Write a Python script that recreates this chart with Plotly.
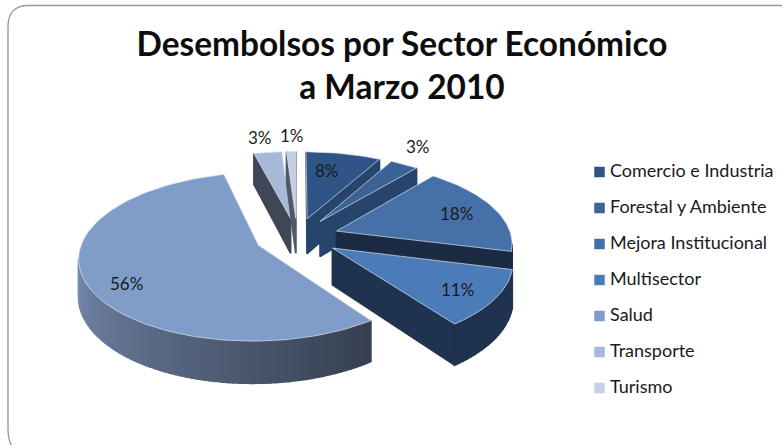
import math
import plotly.graph_objects as go

# ---- data ----
categories = ["Comercio e Industria", "Forestal y Ambiente", "Mejora Institucional",
              "Multisector", "Salud", "Transporte", "Turismo"]
shares = [8, 3, 18, 11, 56, 3, 1]
top_colors = ["#2f5486", "#3c6395", "#4571a8", "#4b7cb9", "#809dca", "#a7b9d9", "#c4d0e6"]
side_colors = ["#27446c", "#27446c", "#1b2b43", "#1f3350", None, "#3f4656", "#50586a"]
title_text = "Desembolsos por Sector Económico<br>a Marzo 2010"

# ---- projection of the tilted pie into page pixels ----
W, H = 782, 445
CX, CY = 297, 237
RX, RY = 175, 80.5
PERSP = 0.134
DEPTH = 36
EXPLODE = 0.24
LABEL_PX = [(327, 170), (418, 146), (456, 213), (457, 289), (126, 283), (260, 137), (292, 135)]
DRAW_ORDER = [5, 6, 0, 1, 2, 3, 4]
KEY_X, KEY_TEXT_X, KEY_Y0, KEY_STEP = 599.5, 610, 172, 36


def project(u, v, down=False):
    s = 1 / (1 - PERSP * v)
    return CX + RX * u * s, CY + RY * v * s + (DEPTH * s if down else 0)


def lerp_hex(a, b, t):
    ca = [int(a[i:i + 2], 16) for i in (1, 3, 5)]
    cb = [int(b[i:i + 2], 16) for i in (1, 3, 5)]
    return "#%02x%02x%02x" % tuple(round(x + (y - x) * t) for x, y in zip(ca, cb))


def face(fig, pts, color, line="rgba(0,0,0,0)", width=0):
    xs = [p[0] for p in pts] + [pts[0][0]]
    ys = [p[1] for p in pts] + [pts[0][1]]
    fig.add_trace(go.Scatter(x=xs, y=ys, mode="lines", fill="toself", fillcolor=color,
                             line=dict(color=line, width=width), hoverinfo="skip",
                             showlegend=False))


def quad(fig, a, b, color):
    """Side face between plan points a and b; drawn only if it faces the viewer."""
    p = [project(*a), project(*b), project(*b, True), project(*a, True)]
    area = sum(p[i][0] * p[(i + 1) % 4][1] - p[(i + 1) % 4][0] * p[i][1] for i in range(4))
    if area < 0:
        face(fig, p, color, color, 1.6)


fig = go.Figure()
total = sum(shares)
spans = []
acc = 0
for val in shares:
    spans.append((acc / total * 2 * math.pi, (acc + val) / total * 2 * math.pi))
    acc += val

for i in DRAW_ORDER:
    a0, a1 = spans[i]
    mid = (a0 + a1) / 2
    ox, oy = EXPLODE * math.sin(mid), -EXPLODE * math.cos(mid)
    n = max(4, int((a1 - a0) / 0.03))
    arc = [(ox + math.sin(a0 + (a1 - a0) * k / n), oy - math.cos(a0 + (a1 - a0) * k / n))
           for k in range(n + 1)]
    apex = (ox, oy)
    side = side_colors[i]
    quad(fig, apex, arc[0], side or "#363f50")
    quad(fig, arc[-1], apex, side or "#363f50")
    for k in range(n):
        if side is None:
            c = lerp_hex("#363f50", "#7b90b5", min(1, k / (n * 0.62)))
        else:
            c = side
        quad(fig, arc[k], arc[k + 1], c)
    top = [project(*apex)] + [project(*q) for q in arc]
    face(fig, top, top_colors[i], "#dfe4ec", 0.7)

# colour key
key_y = [KEY_Y0 + KEY_STEP * k for k in range(len(categories))]
fig.add_trace(go.Scatter(x=[KEY_X] * len(categories), y=key_y, mode="markers",
                         marker=dict(symbol="square", size=10.5, color=top_colors),
                         hoverinfo="skip", showlegend=False))
fig.add_trace(go.Scatter(x=[KEY_TEXT_X] * len(categories), y=key_y, mode="text",
                         text=categories, textposition="middle right",
                         textfont=dict(family="Lato", size=18, color="#1a1a1a"),
                         hoverinfo="text", showlegend=False))

for val, (lx, ly) in zip(shares, LABEL_PX):
    fig.add_annotation(x=lx, y=ly, text=f"{val}%", showarrow=False,
                       font=dict(family="Lato", size=17, color="#1a1a1a"))

fig.add_shape(type="path", layer="below",
              path="M 8 27 Q 8 5.5 28 5.5 L 790 5.5 L 790 455 L 28 455 Q 8 455 8 428 Z",
              line=dict(color="#9a9a9a", width=1.4), fillcolor="white")

fig.update_layout(
    width=W, height=H, margin=dict(l=0, r=0, t=0, b=0),
    paper_bgcolor="white", plot_bgcolor="white", showlegend=False,
    title=dict(text=title_text, x=402 / W, xanchor="center", y=0.875, yanchor="top",
               font=dict(family="Lato", size=33.4, color="#0d0d0d", weight="bold")),
    xaxis=dict(range=[0, W], visible=False, fixedrange=True),
    yaxis=dict(range=[H, 0], visible=False, fixedrange=True),
)
fig.write_html("out.html", post_script="document.body.style.margin='0';",
               config=dict(displayModeBar=False))
